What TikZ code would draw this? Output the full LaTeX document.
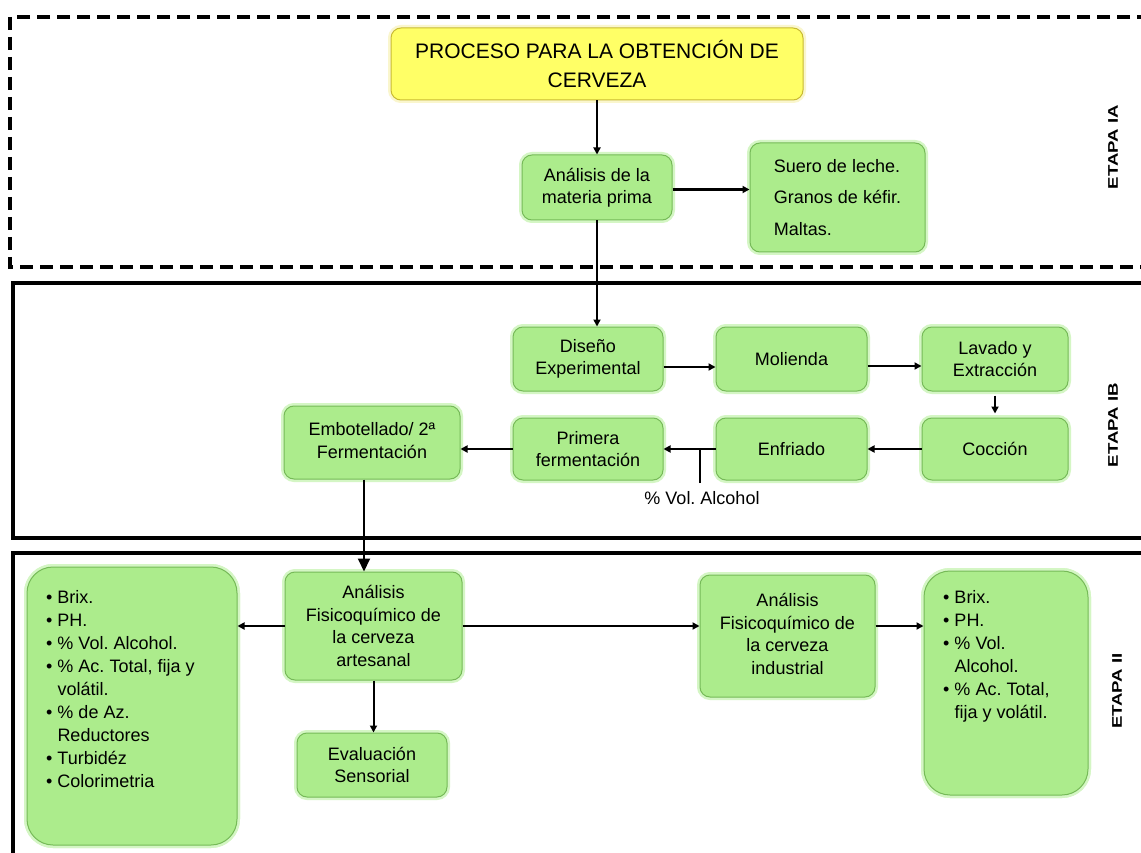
\documentclass[tikz,border=0pt]{standalone}
\usepackage{fontspec}
\setmainfont{Liberation Sans}
\usetikzlibrary{arrows.meta}
\frenchspacing
\definecolor{gfill}{RGB}{172,236,140}
\definecolor{gline}{RGB}{118,186,88}
\definecolor{gglow}{RGB}{212,246,196}
\definecolor{yfill}{RGB}{255,255,102}
\definecolor{yline}{RGB}{200,186,50}
\definecolor{yglow}{RGB}{250,246,205}
\tikzset{
  box/.style={draw=gline, fill=gfill, line width=1pt, rounded corners=10pt,
    align=center, inner sep=0pt, font=\fontsize{18}{22.5}\selectfont,
    preaction={draw=gglow, line width=6pt, rounded corners=10pt}},
  bigbox/.style={box, rounded corners=26pt, preaction={draw=gglow, line width=6pt, rounded corners=26pt}},
  titlebox/.style={draw=yline, fill=yfill, line width=1pt, rounded corners=10pt,
    align=center, inner sep=0pt, font=\fontsize{21}{29}\selectfont,
    preaction={draw=yglow, line width=6pt, rounded corners=10pt}},
  listtext/.style={anchor=north west, inner sep=0pt, font=\fontsize{18}{23}\selectfont},
  plain/.style={inner sep=0pt, font=\fontsize{18}{22}\selectfont},
  etapa/.style={rotate=90, inner sep=0pt, font=\fontsize{14}{16}\selectfont\bfseries},
  arr/.style={-{Triangle[length=7pt,width=7pt]}, line width=2pt},
  bigarr/.style={-{Triangle[length=13pt,width=12pt]}, line width=2pt},
  dashframe/.style={line width=4pt, dash pattern=on 13pt off 7pt},
  solidframe/.style={line width=4.5pt}
}
\begin{document}
\begin{tikzpicture}[x=1pt,y=-1pt]
\fill[white] (0,0) rectangle (1141,853);
\useasboundingbox (0,0) rectangle (1141,853);
% frames
\draw[dashframe] (1170,17) -- (10,17) -- (10,267) -- (1170,267);
\draw[solidframe] (1170,283) -- (13,283) -- (13,538) -- (1170,538);
\draw[solidframe] (1170,553) -- (13,553) -- (13,880);
% stage labels
\node[etapa] (etIA) at (1113,147) {\scalebox{1.33}[1]{ETAPA IA}};
\node[etapa] (etIB) at (1113,425) {\scalebox{1.33}[1]{ETAPA IB}};
\node[etapa] (etII) at (1117,691) {\scalebox{1.33}[1]{ETAPA II}};
% nodes
\node[titlebox, minimum width=412pt, minimum height=72pt] (title) at (597,64) {PROCESO PARA LA OBTENCIÓN DE\\CERVEZA};
\node[box, minimum width=150pt, minimum height=65pt] (ana) at (597,187.5) {Análisis de la\\materia prima};
\node[box, align=left, minimum width=175pt, minimum height=109pt] (suero) at (837.5,197.5) {Suero de leche.\\[9pt]Granos de kéfir.\\[9pt]Maltas.};
\node[box, minimum width=150pt, minimum height=64pt] (dis) at (588,359) {Diseño\\Experimental};
\node[box, minimum width=151pt, minimum height=64pt] (mol) at (791.5,359) {Molienda};
\node[box, minimum width=146pt, minimum height=64pt] (lav) at (995,359) {Lavado y\\Extracción};
\node[box, minimum width=146pt, minimum height=62pt] (coc) at (995,449) {Cocción};
\node[box, minimum width=151pt, minimum height=62pt] (enf) at (791.5,449) {Enfriado};
\node[box, minimum width=150pt, minimum height=62pt] (pri) at (588,449) {Primera\\fermentación};
\node[box, minimum width=176pt, minimum height=73pt] (emb) at (372,442.5) {\raisebox{5pt}{\begin{tabular}{@{}c@{}}Embotellado/ 2ª\\Fermentación\end{tabular}}};
\node[plain] (alclabel) at (702,498) {\% Vol. Alcohol};
\coordinate (alctop) at (700,483);
\node[box, minimum width=177pt, minimum height=108pt] (art) at (373.5,626) {Análisis\\Fisicoquímico de\\la cerveza\\artesanal};
\node[box, minimum width=175pt, minimum height=122pt] (ind) at (787.5,636) {\raisebox{4pt}{\begin{tabular}{@{}c@{}}Análisis\\Fisicoquímico de\\la cerveza\\industrial\end{tabular}}};
\node[box, minimum width=150pt, minimum height=64pt] (eva) at (372,765) {Evaluación\\Sensorial};
\node[bigbox, minimum width=210pt, minimum height=278pt] (lbox) at (132,706) {};
\node[listtext] (lboxlist) at (46,587) {\begin{tabular}{@{}l@{\hspace{5pt}}l@{}}
•&Brix.\\
•&PH.\\
•&\% Vol. Alcohol.\\
•&\% Ac. Total, fija y\\
 &volátil.\\
•&\% de Az.\\
 &Reductores\\
•&Turbidéz\\
•&Colorimetria
\end{tabular}};
\node[bigbox, minimum width=164pt, minimum height=224pt] (rbox) at (1006,683) {};
\node[listtext] (rboxlist) at (943,587) {\begin{tabular}{@{}l@{\hspace{5pt}}l@{}}
•&Brix.\\
•&PH.\\
•&\% Vol.\\
 &Alcohol.\\
•&\% Ac. Total,\\
 &fija y volátil.
\end{tabular}};
% connectors
\draw[arr] (title.south) -- (ana.north);
\draw[arr, line width=2.6pt] ([yshift=-2pt]ana.east) -- ([yshift=-2pt]ana.east -| suero.west);
\draw[arr] (ana.south) -- (ana.south |- dis.north);
\draw[arr, line width=2.6pt] ([yshift=-8pt]dis.east) -- ([yshift=-8pt]dis.east -| mol.west);
\draw[arr, line width=2.6pt] ([yshift=-7pt]mol.east) -- ([yshift=-7pt]mol.east -| lav.west);
\draw[arr] ([yshift=-4pt]lav.south) -- ([yshift=4pt]coc.north);
\draw[arr] (coc.west) -- (enf.east);
\draw[arr] (enf.west) -- (pri.east);
\draw[arr] (pri.west) -- (pri.west -| emb.east);
\draw[line width=2pt] (alctop) -- (alctop |- enf.west);
\draw[bigarr] ([xshift=-8pt]emb.south) -- ([xshift=-8pt]emb.south |- art.north);
\draw[arr] (art.west) -- (art.west -| lbox.east);
\draw[arr] (art.east) -- (art.east -| ind.west);
\draw[arr] (art.east -| ind.east) -- (art.east -| rbox.west);
\draw[arr] (art.south) -- (art.south |- eva.north);
\end{tikzpicture}
\end{document}
